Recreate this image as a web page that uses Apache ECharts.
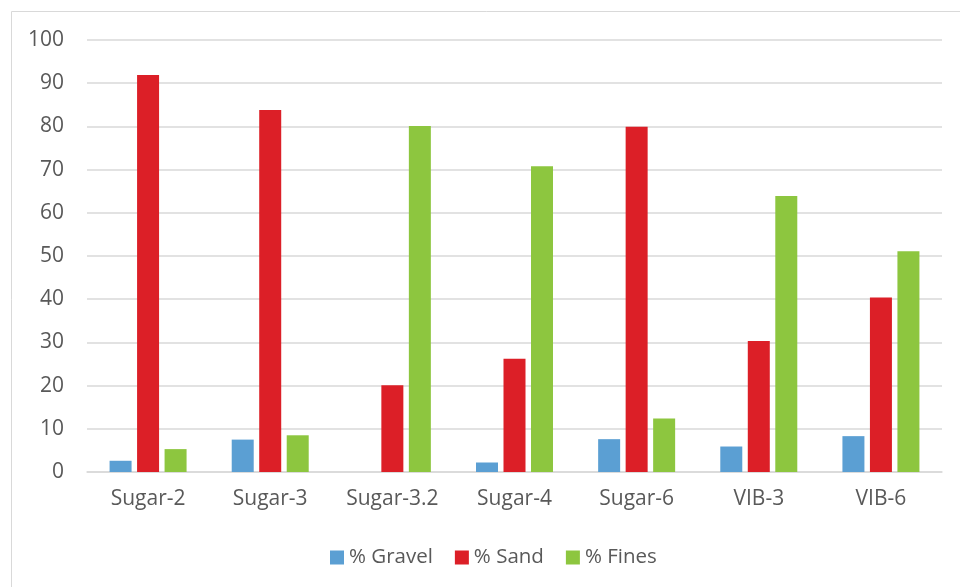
<!DOCTYPE html>
<html>
<head>
<meta charset="utf-8">
<script src="https://cdn.jsdelivr.net/npm/echarts@6/dist/echarts.min.js"></script>
<style>
  html, body { margin: 0; padding: 0; background: #fff; }
  #chart { width: 960px; height: 587px; }
</style>
</head>
<body>
<div id="chart"></div>
<script>
// Grain-size composition per sample
const categories = ['Sugar-2', 'Sugar-3', 'Sugar-3.2', 'Sugar-4', 'Sugar-6', 'VIB-3', 'VIB-6'];
const gravel = [2.6, 7.5, 0, 2.2, 7.6, 5.9, 8.3];
const sand   = [91.9, 83.8, 20.1, 26.2, 79.9, 30.3, 40.4];
const fines  = [5.3, 8.5, 80.1, 70.8, 12.4, 63.9, 51.1];
const yTicks = [0, 10, 20, 30, 40, 50, 60, 70, 80, 90, 100];

const font = '"Open Sans", "Noto Sans", sans-serif';
const textColor = '#595959';

const chart = echarts.init(document.getElementById('chart'));
chart.setOption({
  animation: false,
  textStyle: { fontFamily: font },
  graphic: [{
    type: 'rect',
    shape: { x: 11.5, y: 11.5, width: 1000, height: 1000 },
    style: { fill: 'none', stroke: '#d9d9d9', lineWidth: 1 },
    silent: true
  }],
  grid: { left: 87, right: 18, top: 40, bottom: 115, containLabel: false },
  legend: {
    top: 542,
    left: 325,
    itemWidth: 14,
    itemHeight: 14,
    itemGap: 22,
    icon: 'rect',
    textStyle: { fontFamily: font, fontSize: 20.5, color: textColor },
    data: ['% Gravel', '% Sand', '% Fines']
  },
  xAxis: {
    type: 'category',
    data: categories,
    axisLine: { lineStyle: { color: '#d9d9d9', width: 1.5 } },
    axisTick: { show: false },
    axisLabel: { fontFamily: font, fontSize: 21, color: textColor, margin: 17 }
  },
  yAxis: {
    type: 'value',
    min: yTicks[0],
    max: yTicks[yTicks.length - 1],
    interval: 10,
    axisLine: { show: false },
    axisTick: { show: false },
    splitLine: { lineStyle: { color: '#d9d9d9', width: 1.5 } },
    axisLabel: { fontFamily: font, fontSize: 21, color: textColor, margin: 23 }
  },
  series: [
    { name: '% Gravel', type: 'bar', data: gravel, barWidth: 22, barGap: '25%',
      itemStyle: { color: '#5b9fd3' } },
    { name: '% Sand', type: 'bar', data: sand, barWidth: 22, barGap: '25%',
      itemStyle: { color: '#dc1f27' } },
    { name: '% Fines', type: 'bar', data: fines, barWidth: 22, barGap: '25%',
      itemStyle: { color: '#8dc63f' } }
  ]
});
</script>
</body>
</html>
